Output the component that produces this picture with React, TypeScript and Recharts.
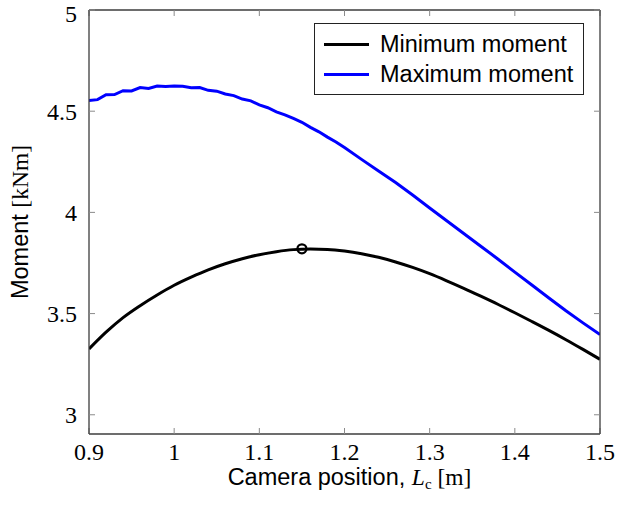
import { LineChart, Line, XAxis, YAxis, ReferenceDot } from 'recharts'

const maxPos = [
  0.9, 0.91, 0.92, 0.93, 0.94, 0.95, 0.96, 0.97, 0.98, 0.99, 1.0, 1.01, 1.02, 1.03, 1.04, 1.05, 1.06,
  1.07, 1.08, 1.09, 1.1, 1.11, 1.12, 1.13, 1.14, 1.15, 1.16, 1.17, 1.18, 1.19, 1.2, 1.22, 1.24, 1.26,
  1.28, 1.3, 1.32, 1.34, 1.36, 1.38, 1.4, 1.42, 1.44, 1.46, 1.48, 1.5,
]
const maxMoment = [
  4.553, 4.557, 4.581, 4.582, 4.601, 4.6, 4.617, 4.612, 4.624, 4.622, 4.624, 4.623, 4.616, 4.617, 4.603,
  4.599, 4.585, 4.577, 4.56, 4.551, 4.531, 4.517, 4.497, 4.482, 4.464, 4.445, 4.42, 4.398, 4.372, 4.348,
  4.32, 4.262, 4.205, 4.148, 4.086, 4.022, 3.959, 3.896, 3.833, 3.77, 3.705, 3.641, 3.577, 3.514, 3.454,
  3.396,
]

const minPos = [
  0.9, 0.92, 0.94, 0.96, 0.98, 1.0, 1.02, 1.04, 1.06, 1.08, 1.1, 1.12, 1.14, 1.16, 1.18, 1.2, 1.22,
  1.24, 1.26, 1.28, 1.3, 1.32, 1.34, 1.36, 1.38, 1.4, 1.42, 1.44, 1.46, 1.48, 1.5,
]
const minMoment = [
  3.325, 3.408, 3.48, 3.539, 3.592, 3.64, 3.68, 3.716, 3.746, 3.771, 3.791, 3.806, 3.816, 3.819, 3.817,
  3.809, 3.796, 3.778, 3.755, 3.728, 3.697, 3.662, 3.625, 3.586, 3.546, 3.504, 3.461, 3.417, 3.371, 3.323,
  3.274,
]

// optimum of the minimum-moment curve
const optimum = { x: 1.15, y: 3.82 }

const xTicks = [0.9, 1, 1.1, 1.2, 1.3, 1.4, 1.5]
const yTicks = [3, 3.5, 4, 4.5, 5]

const seriesNames = ['Minimum moment', 'Maximum moment']
const seriesColors = ['#000000', '#0000ff']

const minData = minPos.map((x, i) => ({ x, y: minMoment[i] }))
const maxData = maxPos.map((x, i) => ({ x, y: maxMoment[i] }))

const serif = '"Liberation Serif", "DejaVu Serif", serif'
const sans = '"Liberation Sans", Arial, sans-serif'
const axisColor = '#3c3c3c'
const tickColor = '#8a8a8a'

function XLabel(props: any) {
  const vb = props.viewBox
  const cx = vb.x + vb.width / 2 + 5
  return (
    <text x={cx} y={vb.y + 51} textAnchor="middle" fontSize={23.5} fill="#000">
      <tspan fontFamily={sans}>Camera position, </tspan>
      <tspan fontFamily={serif} fontStyle="italic">L</tspan>
      <tspan fontFamily={serif} fontSize={15} dy={4}>c</tspan>
      <tspan fontFamily={serif} dy={-4}> [m]</tspan>
    </text>
  )
}

function YLabel(props: any) {
  const vb = props.viewBox
  const cx = 28
  const cy = vb.y + vb.height / 2
  return (
    <text x={cx} y={cy} transform={`rotate(-90, ${cx}, ${cy})`} textAnchor="middle" fontSize={23.5} fill="#000">
      <tspan fontFamily={sans}>Moment </tspan>
      <tspan fontFamily={serif}>[kNm]</tspan>
    </text>
  )
}

function LegendBox() {
  return (
    <div
      style={{
        position: 'absolute',
        left: 314,
        top: 23,
        border: '1px solid #222',
        background: '#fff',
        width: 268,
        padding: '5px 0 5px 0',
        fontFamily: sans,
        fontSize: 23.5,
        lineHeight: '30px',
      }}
    >
      {seriesNames.map((name, i) => (
        <div key={name} style={{ display: 'flex', alignItems: 'center' }}>
          <div style={{ width: 45, height: 3, background: seriesColors[i], marginLeft: 9, marginRight: 11 }} />
          <span>{name}</span>
        </div>
      ))}
    </div>
  )
}

export default function App() {
  return (
    <div style={{ position: 'absolute', left: 0, top: 0, width: 617, height: 508 }}>
      <LineChart width={617} height={508} margin={{ top: 9, right: 16, bottom: 24, left: 29 }}>
        <XAxis
          xAxisId="bottom"
          dataKey="x"
          type="number"
          domain={[0.9, 1.5]}
          ticks={xTicks}
          allowDataOverflow
          height={50}
          tickSize={-6}
          tickMargin={15}
          axisLine={{ stroke: axisColor, strokeWidth: 1.3 }}
          tickLine={{ stroke: tickColor }}
          tick={{ fill: '#000', fontFamily: serif, fontSize: 24 }}
          label={<XLabel />}
        />
        <XAxis
          xAxisId="top"
          orientation="top"
          dataKey="x"
          type="number"
          domain={[0.9, 1.5]}
          ticks={xTicks}
          allowDataOverflow
          height={1}
          tickSize={-6}
          tickFormatter={() => ''}
          axisLine={{ stroke: axisColor, strokeWidth: 1.3 }}
          tickLine={{ stroke: tickColor }}
        />
        <YAxis
          yAxisId="left"
          type="number"
          domain={[2.905, 5]}
          ticks={yTicks}
          allowDataOverflow
          width={60}
          tickSize={-6}
          tickMargin={18}
          axisLine={{ stroke: axisColor, strokeWidth: 1.3 }}
          tickLine={{ stroke: tickColor }}
          tick={{ fill: '#000', fontFamily: serif, fontSize: 24 }}
          label={<YLabel />}
        />
        <YAxis
          yAxisId="right"
          orientation="right"
          type="number"
          domain={[2.905, 5]}
          ticks={yTicks}
          allowDataOverflow
          width={1}
          tickSize={-6}
          tickFormatter={() => ''}
          axisLine={{ stroke: axisColor, strokeWidth: 1.3 }}
          tickLine={{ stroke: tickColor }}
        />
        <Line
          xAxisId="bottom"
          yAxisId="left"
          data={minData}
          dataKey="y"
          name={seriesNames[0]}
          type="monotone"
          stroke={seriesColors[0]}
          strokeWidth={3}
          dot={false}
          isAnimationActive={false}
        />
        <Line
          xAxisId="bottom"
          yAxisId="left"
          data={maxData}
          dataKey="y"
          name={seriesNames[1]}
          type="linear"
          stroke={seriesColors[1]}
          strokeWidth={3}
          dot={false}
          isAnimationActive={false}
        />
        <ReferenceDot
          xAxisId="bottom"
          yAxisId="left"
          x={optimum.x}
          y={optimum.y}
          r={4.5}
          fill="none"
          stroke="#000"
          strokeWidth={2.2}
        />
      </LineChart>
      <LegendBox />
    </div>
  )
}
